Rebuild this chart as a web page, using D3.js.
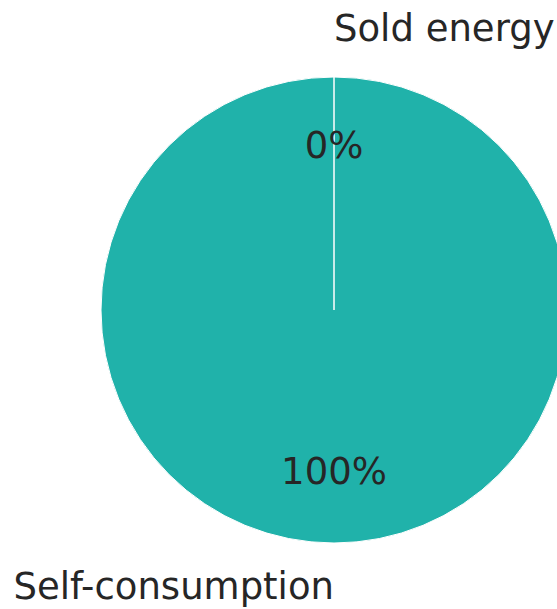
<!DOCTYPE html>
<html lang="en">
<head>
<meta charset="UTF-8">
<title>Energy split</title>
<script src="https://cdn.jsdelivr.net/npm/d3@7"></script>
<style>
    body { margin: 0; background: #fff; }
    svg text { font-family: "DejaVu Sans", sans-serif; fill: #262626; }
</style>
</head>
<body>
<svg id="chart" width="557" height="609"></svg>
<script>
// data
var labels = ["Sold energy", "Self-consumption"];
var values = [0, 100];
var colors = ["#20b2aa", "#20b2aa"];

var cx = 334, cy = 310, r = 233, fs = 37;

var svg = d3.select("#chart");
var g = svg.append("g").attr("transform", "translate(" + cx + "," + cy + ")");

var total = d3.sum(values);
var pie = d3.pie().sort(null).value(function(d){ return d; });
var arcs = pie(values);

var arc = d3.arc().innerRadius(0).outerRadius(r);

// draw big slices first so the zero slice's white edge shows on top
var order = arcs.slice().sort(function(a, b){ return b.value - a.value; });
g.selectAll("path.slice")
    .data(order)
    .enter().append("path")
    .attr("class", "slice")
    .attr("d", arc)
    .style("fill", function(d){ return colors[d.index]; })
    .style("stroke", "#fff")
    .style("stroke-width", 1);

function mid(d){ return (d.startAngle + d.endAngle) / 2; }

// percent labels at 0.7 r
g.selectAll("text.pct")
    .data(arcs)
    .enter().append("text")
    .attr("class", "pct")
    .attr("x", function(d){ return Math.sin(mid(d)) * r * 0.7; })
    .attr("y", function(d){ return -Math.cos(mid(d)) * r * 0.7 + fs * 0.29; })
    .attr("text-anchor", "middle")
    .style("font-size", fs + "px")
    .text(function(d){ return Math.round(d.value / total * 100) + "%"; });

// outer labels at 1.1 r
g.selectAll("text.lbl")
    .data(arcs)
    .enter().append("text")
    .attr("class", "lbl")
    .attr("x", function(d){ return Math.sin(mid(d)) * r * 1.1; })
    .attr("y", function(d){
        var y = -Math.cos(mid(d)) * r * 1.1;
        return y < 0 ? y - fs * 0.35 : y + fs * 0.89;
    })
    .attr("text-anchor", function(d){
        return Math.cos(Math.PI / 2 + mid(d)) > 0 ? "start" : "end";
    })
    .style("font-size", fs + "px")
    .text(function(d){ return labels[d.index]; });
</script>
</body>
</html>
